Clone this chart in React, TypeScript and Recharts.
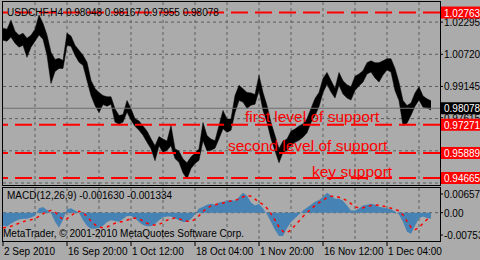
import React from 'react'
import { ComposedChart, Area, Line, XAxis, YAxis, CartesianGrid, ReferenceLine } from 'recharts'

const FONT = '"Liberation Sans", Arial, sans-serif'
const BG = '#ABABAB'
const GRID = '#5c5c5c'

// USDCHF H4, one sample every 4 bars (high / low of the sample)
const priceHigh = [
  1.02, 1.0195, 1.0239, 1.0185, 1.0165, 1.0175, 1.0151, 1.0165, 1.0195, 1.0264,
  1.0224, 1.0166, 1.0082, 1.0047, 1.0052, 1.0042, 1.0175, 1.0161, 1.0116, 1.0092,
  1.0067, 1.0033, 0.9944, 0.9905, 0.9885, 0.987, 0.9864, 0.9864, 0.9805, 0.9772,
  0.9777, 0.9846, 0.9805, 0.9757, 0.9746, 0.9721, 0.9696, 0.9659, 0.9624, 0.9669,
  0.9657, 0.9647, 0.9723, 0.961, 0.9598, 0.956, 0.9541, 0.957, 0.9588, 0.961,
  0.9738, 0.9674, 0.9657, 0.9649, 0.9723, 0.9797, 0.9755, 0.9755, 0.987, 0.992,
  0.9903, 0.9885, 0.9883, 0.9875, 0.9969, 0.9885, 0.9821, 0.9738, 0.9674, 0.961,
  0.9647, 0.9657, 0.9696, 0.9706, 0.9721, 0.9731, 0.9757, 0.9807, 0.9856, 0.9885,
  0.9954, 0.9983, 0.9944, 0.9905, 0.9983, 0.9942, 0.9923, 0.9913, 0.9964, 0.9976,
  0.9991, 1.0031, 1.004, 1.0031, 1.0031, 1.004, 1.005, 1.005, 1.0003, 0.9934,
  0.9846, 0.9821, 0.9834, 0.9883, 0.9913, 0.9868, 0.9854, 0.9844,
]
const priceLow = [
  1.0141, 1.0136, 1.0156, 1.0126, 1.0107, 1.0116, 1.0057, 1.0107, 1.0136, 1.0166,
  1.0146, 1.0067, 0.9929, 0.9988, 1.0003, 1.0003, 1.0116, 1.0111, 1.0067, 1.0033,
  1.0018, 0.9944, 0.987, 0.9821, 0.9787, 0.9826, 0.9818, 0.9828, 0.974, 0.973,
  0.974, 0.9789, 0.975, 0.972, 0.97, 0.9676, 0.9641, 0.961, 0.9551, 0.9624,
  0.9592, 0.9602, 0.9624, 0.9562, 0.9543, 0.9492, 0.9462, 0.9513, 0.9538, 0.9553,
  0.9649, 0.96, 0.9602, 0.9612, 0.9659, 0.9708, 0.969, 0.97, 0.9787, 0.9846,
  0.9838, 0.9807, 0.9823, 0.9828, 0.9895, 0.9797, 0.9738, 0.9659, 0.96, 0.9541,
  0.9592, 0.9602, 0.9626, 0.9641, 0.9651, 0.9666, 0.9688, 0.9738, 0.9772, 0.9816,
  0.9885, 0.9925, 0.9887, 0.9858, 0.992, 0.9877, 0.9858, 0.9848, 0.9895, 0.9917,
  0.9936, 0.9976, 0.9985, 0.9956, 0.9936, 0.9971, 0.9995, 0.9985, 0.9895, 0.9846,
  0.9723, 0.9735, 0.9774, 0.9818, 0.9848, 0.9813, 0.9809, 0.9799,
]

// MACD(12,26,9), values in units of 0.001
const macdMain = [
  -3.4, -3.7, -2.9, -2.3, -1.8, -1.6, -1.6, -1.3, -0.8, 1.2,
  1.5, 0.7, -0.1, -2.4, -4.0, -1.9, 0.9, 1.2, 0.6, 0.0,
  -2.0, -3.5, -4.3, -4.3, -4.0, -3.5, -2.5, -2.0, -2.2, -2.4,
  -1.7, -0.9, -0.9, -1.5, -2.5, -3.3, -3.6, -3.6, -3.0, -2.0,
  -1.2, -1.0, -1.0, -1.5, -2.0, -2.5, -2.5, -1.7, -0.4, 1.1,
  1.6, 2.1, 2.4, 2.1, 2.7, 2.9, 3.2, 3.4, 3.2, 4.2,
  5.3, 4.5, 2.7, 1.9, 2.4, 1.1, -0.5, -2.5, -4.6, -6.2,
  -6.2, -4.1, -2.5, -1.5, -0.5, 0.6, 1.4, 2.1, 2.9, 3.4,
  4.2, 5.3, 4.5, 3.7, 3.7, 3.2, 1.9, 0.6, 0.6, 1.1,
  1.9, 2.1, 2.4, 2.1, 1.6, 1.4, 1.1, 0.9, 0.3, -0.5,
  -2.5, -5.1, -5.6, -3.5, -1.5, -1.0, -1.4, -1.6,
]
const macdSignal = [
  -4.0, -3.9, -3.6, -3.2, -2.8, -2.4, -2.1, -1.9, -1.6, -1.0,
  -0.3, 0.4, 0.6, 0.2, -0.9, -1.8, -1.6, -0.8, 0.0, 0.4,
  0.0, -1.0, -2.2, -3.2, -3.8, -4.0, -3.8, -3.3, -2.8, -2.5,
  -2.3, -2.0, -1.6, -1.4, -1.6, -2.2, -2.8, -3.2, -3.3, -3.1,
  -2.6, -2.0, -1.6, -1.4, -1.6, -2.0, -2.3, -2.3, -1.8, -0.8,
  0.3, 1.2, 1.8, 2.1, 2.4, 2.6, 2.9, 3.1, 3.3, 3.6,
  4.2, 4.6, 4.4, 3.6, 2.8, 2.2, 1.2, -0.3, -2.0, -3.8,
  -5.0, -5.3, -4.6, -3.4, -2.2, -1.0, 0.0, 1.0, 1.9, 2.7,
  3.3, 4.0, 4.4, 4.4, 4.1, 3.7, 3.2, 2.4, 1.6, 1.2,
  1.3, 1.6, 1.9, 2.1, 2.0, 1.8, 1.5, 1.2, 0.9, 0.5,
  -0.6, -2.3, -3.9, -4.5, -4.0, -2.8, -1.8, -1.3,
]

const timeLabels = ['2 Sep 2010', '16 Sep 20:00', '1 Oct 12:00', '18 Oct 04:00', '1 Nov 20:00', '16 Nov 12:00', '1 Dec 04:00']
const timeBars = [0, 64, 128, 192, 256, 320, 384]
const gridBars = [32, 64, 96, 128, 160, 192, 224, 256, 288, 320, 352, 384, 416]
const priceTicks = [1.02295, 1.0072, 0.99145, 0.97615]
const priceGrid = [1.02295, 1.0072, 0.99145, 0.9757, 0.95995, 0.9442]
const supportLevels = [1.02763, 0.97271, 0.95889, 0.94665]
const bidPrice = 0.98078
const macdTicks = [0.006578, 0, -0.007534]

const STEP = 4
const PRICE_DOMAIN: [number, number] = [0.94273, 1.03279]
const rows = priceHigh.map((hi, i) => ({
  bar: i * STEP,
  range: [priceLow[i], hi],
  hist: macdMain[i] / 1000,
  signal: macdSignal[i] / 1000,
}))

function PriceTick({ x, y, payload }: any) {
  return (
    <g>
      <line x1={x} x2={x + 3} y1={y} y2={y} stroke="#000" />
      <text x={x + 4} y={y + 4} fontSize={10} fontFamily={FONT} fill="#000">{payload.value.toFixed(5)}</text>
    </g>
  )
}

function MacdTick({ x, y, payload }: any) {
  const v = payload.value
  const dy = v > 0 ? 6 : v < 0 ? -6 : 0
  const txt = v === 0 ? '0.00' : v.toFixed(6)
  return (
    <g>
      <line x1={x} x2={x + 3} y1={y + dy} y2={y + dy} stroke="#000" />
      <text x={x + 4} y={y + dy + 4} fontSize={10} fontFamily={FONT} fill="#000">{txt}</text>
    </g>
  )
}

function TimeTick({ x, y, index }: any) {
  return (
    <g>
      <line x1={x} x2={x} y1={y + 1} y2={y + 5} stroke="#000" />
      <text x={x + 1} y={y + 14} fontSize={10} fontFamily={FONT} fill="#000">{timeLabels[index]}</text>
    </g>
  )
}

function boxLabel(text: string, fill: string) {
  return (props: any) => {
    const vb = props.viewBox
    const x = vb.x + vb.width + 1
    return (
      <g>
        <rect x={x} y={vb.y - 6} width={40} height={12} fill={fill} />
        <text x={x + 3} y={vb.y + 4} fontSize={10} fontFamily={FONT} fill="#fff">{text}</text>
      </g>
    )
  }
}

export default function App() {
  return (
    <div style={{ position: 'absolute', left: 0, top: 0, width: 480, height: 260, background: BG, overflow: 'hidden' }}>
      {/* price pane */}
      <ComposedChart width={480} height={188} data={rows} margin={{ top: 2, right: 2, bottom: 2, left: 3 }} style={{ position: 'absolute', left: 0, top: 0 }}>
        <CartesianGrid stroke={GRID} strokeDasharray="3 3" horizontalValues={priceGrid} verticalValues={gridBars} />
        <XAxis type="number" dataKey="bar" domain={[0, 437]} hide allowDataOverflow />
        <YAxis orientation="right" width={38} domain={PRICE_DOMAIN} ticks={priceTicks} interval={0}
          tick={<PriceTick />} tickSize={0} tickMargin={0} tickLine={false} axisLine={false} allowDataOverflow />
        <ReferenceLine y={bidPrice} stroke="#707070" />
        <Area type="linear" dataKey="range" stroke="#000" strokeWidth={0.5} fill="#000" fillOpacity={1}
          dot={false} activeDot={false} isAnimationActive={false} />
      </ComposedChart>

      {/* levels drawn above the price axis labels */}
      <ComposedChart width={480} height={188} data={rows} margin={{ top: 2, right: 2, bottom: 2, left: 3 }} style={{ position: 'absolute', left: 0, top: 0 }}>
        <XAxis type="number" dataKey="bar" domain={[0, 437]} hide allowDataOverflow />
        <YAxis orientation="right" width={38} domain={PRICE_DOMAIN} tick={false} tickLine={false} axisLine={false} allowDataOverflow />
        <ReferenceLine y={bidPrice} stroke="none" label={boxLabel('0.98078', '#000')} />
        {supportLevels.map((v) => (
          <ReferenceLine key={v} y={v} stroke="#ff0000" strokeWidth={2} strokeDasharray="17 7"
            label={boxLabel(v.toFixed(5), '#ff0000')} />
        ))}
      </ComposedChart>

      {/* MACD pane */}
      <ComposedChart width={480} height={260} data={rows} margin={{ top: 188, right: 2, bottom: 0, left: 3 }} style={{ position: 'absolute', left: 0, top: 0 }}>
        <CartesianGrid stroke={GRID} strokeDasharray="3 3" horizontalValues={[0]} verticalValues={gridBars} />
        <XAxis type="number" dataKey="bar" domain={[0, 437]} ticks={timeBars} interval={0} height={19}
          tick={<TimeTick />} tickSize={0} tickMargin={0} tickLine={false} axisLine={false} allowDataOverflow />
        <YAxis orientation="right" width={38} domain={[-0.007534, 0.006578]} ticks={macdTicks} interval={0}
          tick={<MacdTick />} tickSize={0} tickMargin={0} tickLine={false} axisLine={false} allowDataOverflow />
        <Area type="linear" dataKey="hist" baseValue={0} stroke="none" fill="#4682B4" fillOpacity={1}
          dot={false} activeDot={false} isAnimationActive={false} />
        <Line type="linear" dataKey="signal" stroke="#ff0000" strokeWidth={1.5} strokeDasharray="3 4" dot={false} activeDot={false} isAnimationActive={false} />
      </ComposedChart>

      <svg width={480} height={260} style={{ position: 'absolute', left: 0, top: 0, pointerEvents: 'none' }} fontFamily={FONT}>
        <rect x={2.5} y={1.5} width={438} height={184} fill="none" stroke="#000" />
        <rect x={2.5} y={187.5} width={438} height={54} fill="none" stroke="#000" />
        <text x={7} y={16} fontSize={10} fill="#000">USDCHF,H4  0.98048 0.98167 0.97955 0.98078</text>
        <text x={7} y={199} fontSize={10} fill="#000">MACD(12,26,9) -0.001630 -0.001334</text>
        <text x={3} y={237} fontSize={10} fill="#000">MetaTrader, © 2001-2010 MetaQuotes Software Corp.</text>
        <text x={245} y={122} fontSize={15.5} fill="#ff0000">first level of support</text>
        <text x={228} y={151} fontSize={15.5} fill="#ff0000">second level of support</text>
        <text x={312} y={177} fontSize={15.5} fill="#ff0000">key support</text>
      </svg>
    </div>
  )
}
